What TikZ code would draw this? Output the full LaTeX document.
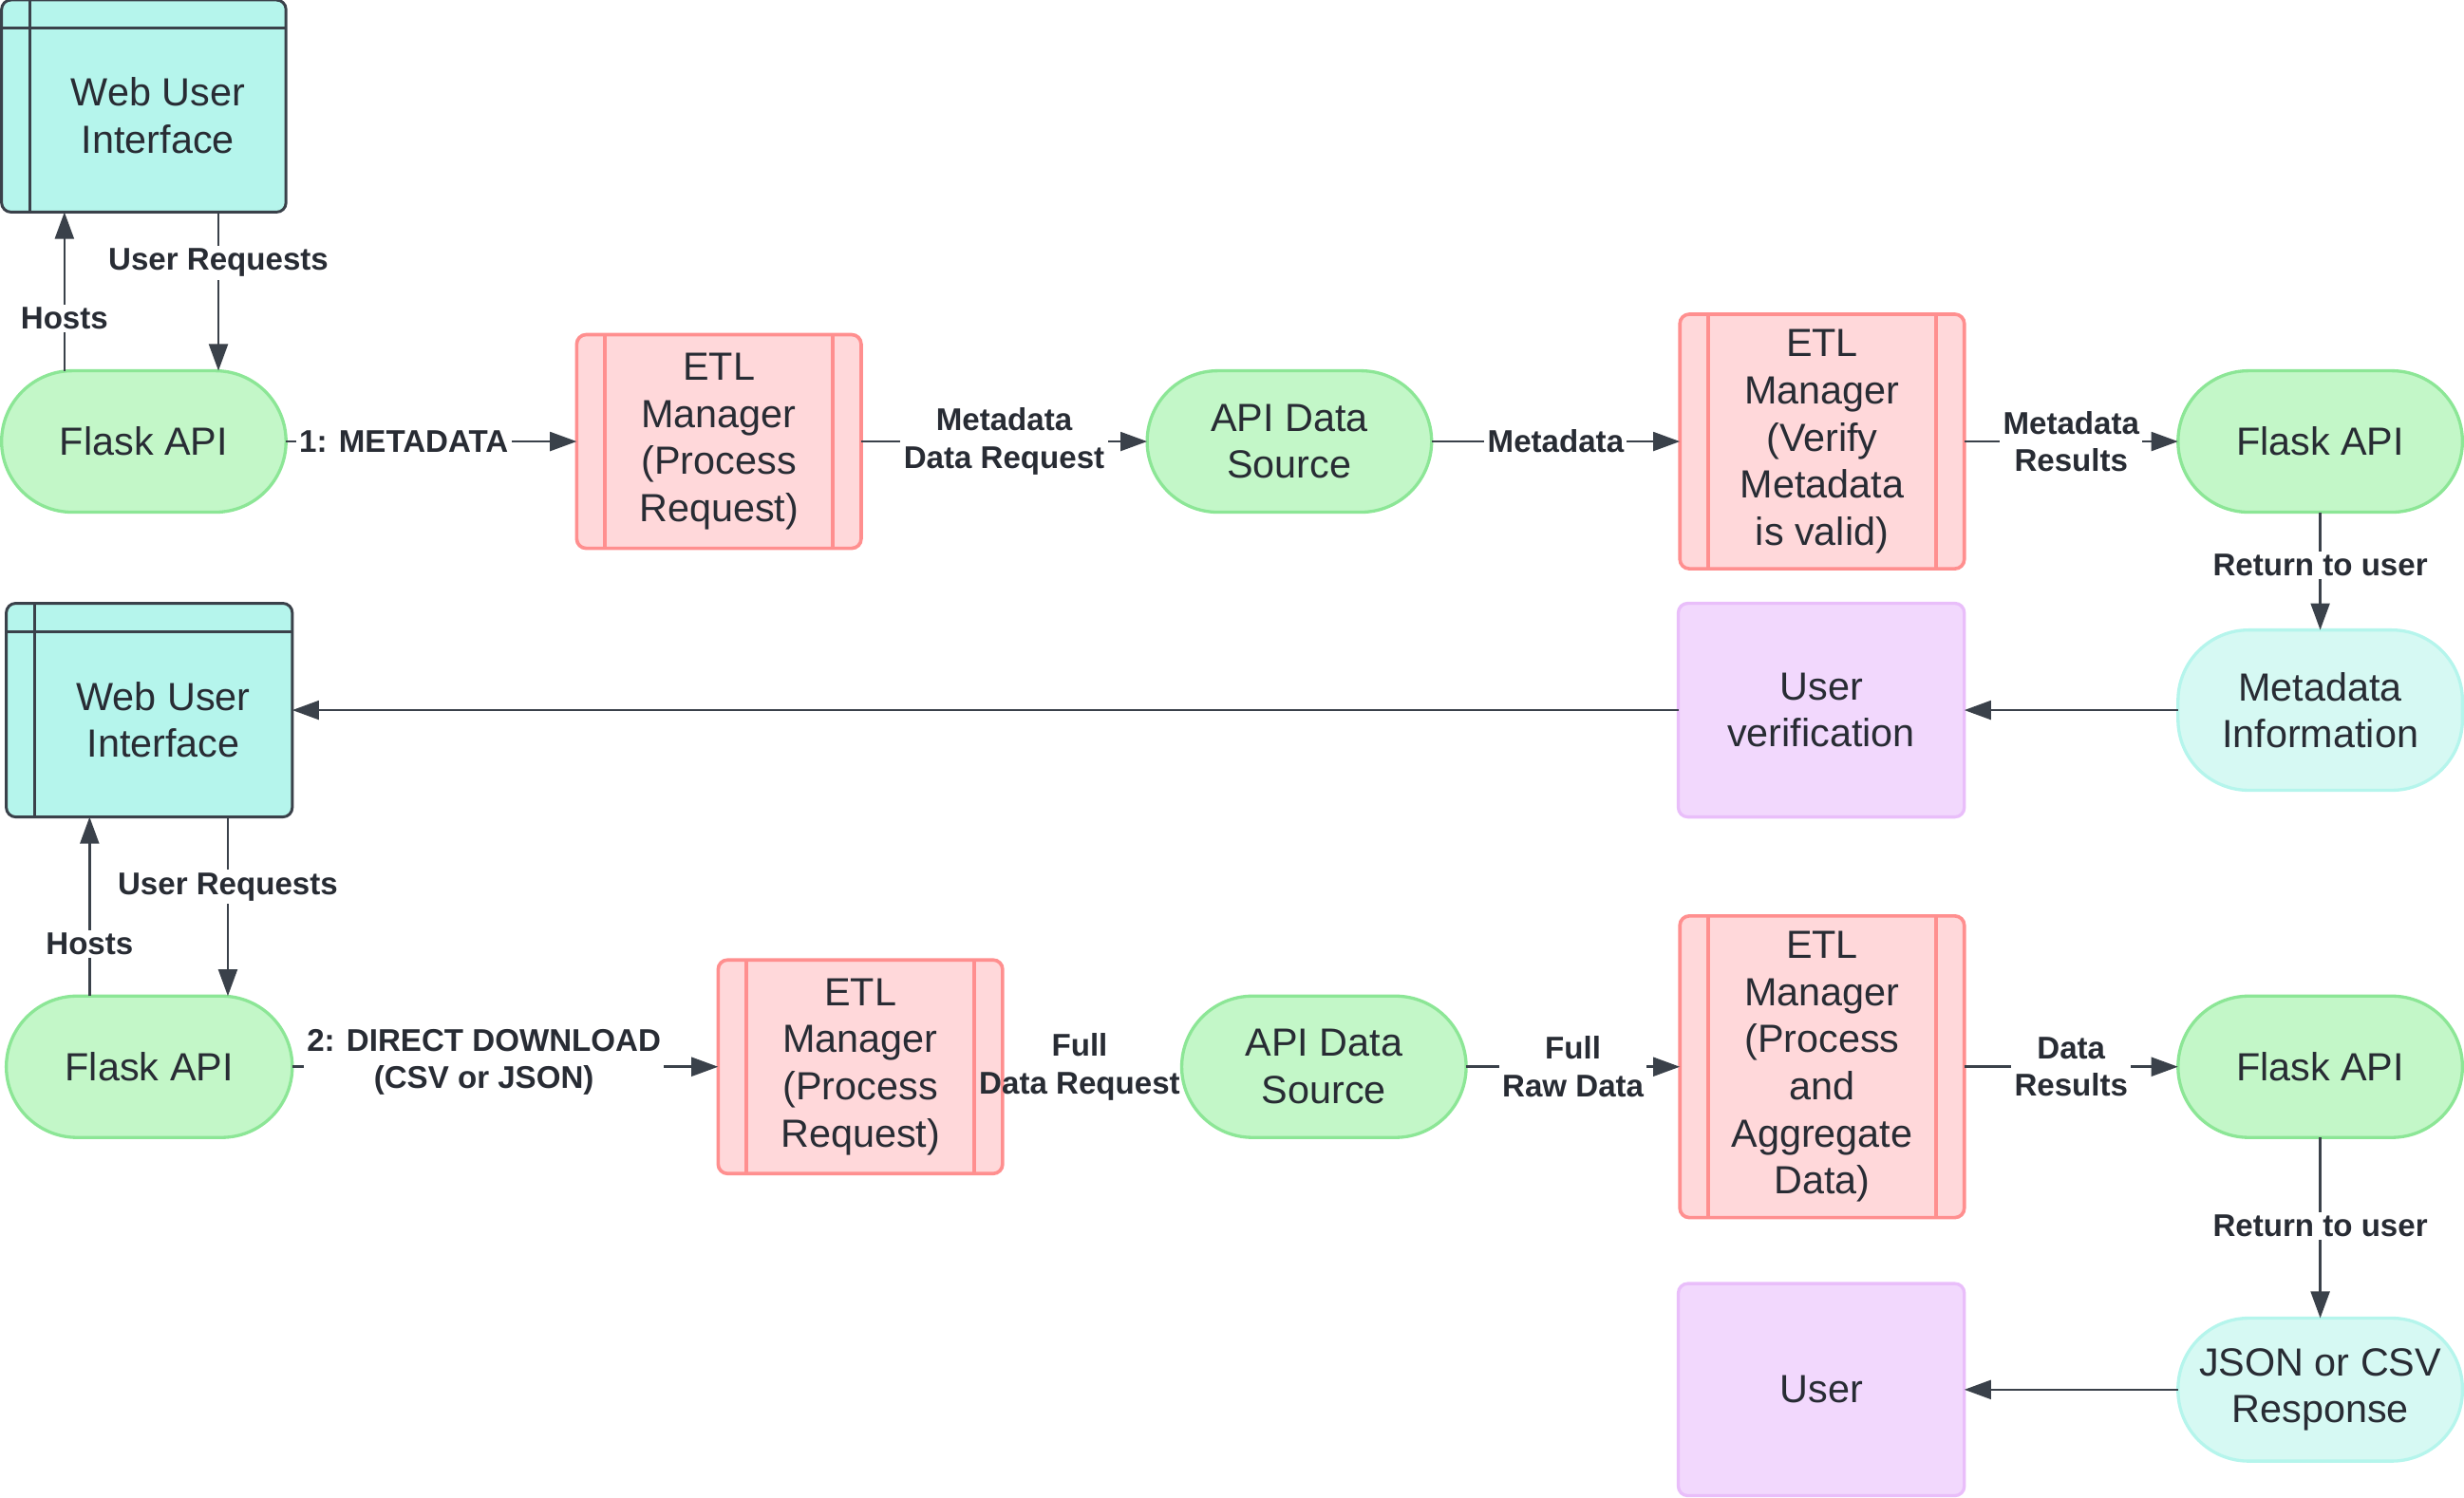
\documentclass[tikz,border=0pt]{standalone}
\usepackage{fontspec}
\setmainfont{Liberation Sans}
\usepackage{tikz}
\usetikzlibrary{arrows.meta, calc, positioning}
\pgfdeclarelayer{background}
\pgfsetlayers{background,main}
\definecolor{linecol}{RGB}{58,65,74}
\definecolor{txtcol}{RGB}{40,44,52}
\definecolor{greenfill}{RGB}{195,247,200}
\definecolor{greenline}{RGB}{140,230,150}
\definecolor{uifill}{RGB}{181,245,236}
\definecolor{resfill}{RGB}{214,249,243}
\definecolor{resline}{RGB}{181,245,236}
\definecolor{etlfill}{RGB}{255,216,218}
\definecolor{etlline}{RGB}{255,143,143}
\definecolor{userfill}{RGB}{242,216,253}
\definecolor{userline}{RGB}{233,190,250}
\newcommand{\nodefont}{\fontsize{12.5}{15}\selectfont}
\newcommand{\lblfont}{\bfseries\fontsize{10}{12}\selectfont}
\newcommand{\uitext}[1]{\raisebox{0pt}[\dimexpr\height+9pt\relax][\depth]{\hspace*{9pt}\begin{tabular}{@{}c@{}}#1\end{tabular}}}
\tikzstyle{flask} = [rectangle, rounded corners=22.5pt, line width=1pt, outer sep=0pt, draw=greenline, fill=greenfill, minimum width=90.5pt, minimum height=45pt, align=center, font=\nodefont, text=txtcol]
\tikzstyle{result} = [flask, draw=resline, fill=resfill]
\tikzstyle{etl} = [rectangle, rounded corners=3pt, line width=1.1pt, outer sep=0pt, draw=etlline, fill=etlfill, minimum width=90.5pt, inner sep=2pt, align=center, font=\nodefont, text=txtcol, path picture={\draw [etlline, line width=1.1pt] ([xshift=9pt]path picture bounding box.north west) -- ([xshift=9pt]path picture bounding box.south west) ([xshift=-9pt]path picture bounding box.north east) -- ([xshift=-9pt]path picture bounding box.south east);}]
\tikzstyle{webui} = [rectangle, rounded corners=3pt, line width=0.9pt, outer sep=0pt, draw=linecol, fill=uifill, minimum width=91pt, minimum height=68pt, inner sep=0pt, font=\nodefont, text=txtcol, path picture={\draw [linecol, line width=0.9pt] ([xshift=9pt]path picture bounding box.north west) -- ([xshift=9pt]path picture bounding box.south west) ([yshift=-9pt]path picture bounding box.north west) -- ([yshift=-9pt]path picture bounding box.north east);}]
\tikzstyle{userbox} = [rectangle, rounded corners=3pt, line width=1pt, outer sep=0pt, draw=userline, fill=userfill, minimum width=91pt, minimum height=68pt, align=center, font=\nodefont, text=txtcol]
\tikzstyle{arrow} = [line width=0.8pt, draw=linecol, -{Triangle[length=8.5pt, width=6pt]}]
\tikzstyle{lbl} = [fill=white, inner sep=1pt, align=center, font=\lblfont, text=txtcol]

\begin{document}
\begin{tikzpicture}
		\useasboundingbox (0,0) rectangle (784pt,-476.5pt);
		% 1: metadata request
		\node (Flask1) [flask] at (45.75pt,-140.5pt) {Flask API};
		\node (WebUI1) [webui, above = 50.5pt of Flask1, minimum width=90.5pt, minimum height=67.5pt] {\uitext{Web User\\Interface}};
		\node (ETL1) [etl, right = 92.5pt of Flask1, minimum height=68pt] {ETL\\Manager\\(Process\\Request)};
		\node (Source1) [flask, right = 91pt of ETL1] {API Data\\Source};
		\node (ETL2) [etl, right = 79pt of Source1, minimum height=81pt] {ETL\\Manager\\(Verify\\Metadata\\is valid)};
		\node (Flask2) [flask, right = 68pt of ETL2] {Flask API};
		\node (MetaInfo) [result, below = 37.5pt of Flask2, minimum height=51pt] {Metadata\\Information};
		\node (Verify) [userbox, left = 68pt of MetaInfo] {User\\verification};
		\node (WebUI2) [webui, left = 441pt of Verify] {\uitext{Web User\\Interface}};
		
		% 2: direct download
		\node (Flask3) [flask, below = 57pt of WebUI2, minimum width=91pt] {Flask API};
		\node (ETL3) [etl, right = 135.5pt of Flask3, minimum height=68pt] {ETL\\Manager\\(Process\\Request)};
		\node (Source2) [flask, right = 57pt of ETL3] {API Data\\Source};
		\node (ETL4) [etl, right = 68pt of Source2, minimum height=96pt] {ETL\\Manager\\(Process\\and\\Aggregate\\Data)};
		\node (Flask4) [flask, right = 68pt of ETL4] {Flask API};
		\node (Response) [result, below = 57.5pt of Flask4, minimum height=45.5pt] {JSON or CSV\\Response};
		\node (User) [userbox, left = 68pt of Response, minimum height=67.5pt] {User};
		
		\draw [arrow] ([xshift=-25.25pt]Flask1.north) -- ([xshift=-25.25pt]Flask1.north |- WebUI1.south) node [lbl, pos=0.33] {Hosts};
		\draw [arrow] ([xshift=23.75pt]Flask1.north |- WebUI1.south) -- ([xshift=23.75pt]Flask1.north) node [lbl, pos=0.32] {User Requests};
		\draw [arrow] (Flask1) -- (ETL1) node [lbl, pos=0.405] {1: METADATA};
		\draw [arrow] (ETL1) -- (Source1) node [lbl, midway] {Metadata\\Data Request};
		\draw [arrow] (Source1) -- (ETL2) node [lbl, midway] {Metadata};
		\draw [arrow] (ETL2) -- (Flask2) node [lbl, midway] {Metadata\\Results};
		\draw [arrow] (Flask2) -- (MetaInfo) node [lbl, pos=0.45] {Return to user};
		\draw [arrow] (MetaInfo) -- (Verify);
		\draw [arrow] (Verify) -- (WebUI2);
		
		\draw [arrow] ([xshift=-19pt]Flask3.north) -- ([xshift=-19pt]Flask3.north |- WebUI2.south) node [lbl, pos=0.29] {Hosts};
		\draw [arrow] ([xshift=25pt]Flask3.north |- WebUI2.south) -- ([xshift=25pt]Flask3.north) node [lbl, pos=0.39] {User Requests};
		\draw [arrow] (Flask3) -- (ETL3) node [lbl, pos=0.45, yshift=1.5pt] {2: DIRECT DOWNLOAD\\(CSV or JSON)};
		\node (FullLbl) [lbl, fill=none] at ($(ETL3.east)!0.43!(Source2.west)$) {Full\\Data Request};
		\begin{pgfonlayer}{background}
		\draw [arrow] (ETL3) -- (Source2);
		\fill [white] (FullLbl.south west) rectangle (FullLbl.north east);
		\end{pgfonlayer}
		\draw [arrow] (Source2) -- (ETL4) node [lbl, midway] {Full\\Raw Data};
		\draw [arrow] (ETL4) -- (Flask4) node [lbl, midway] {Data\\Results};
		\draw [arrow] (Flask4) -- (Response) node [lbl, pos=0.49] {Return to user};
		\draw [arrow] (Response) -- (User);
\end{tikzpicture}
\end{document}
